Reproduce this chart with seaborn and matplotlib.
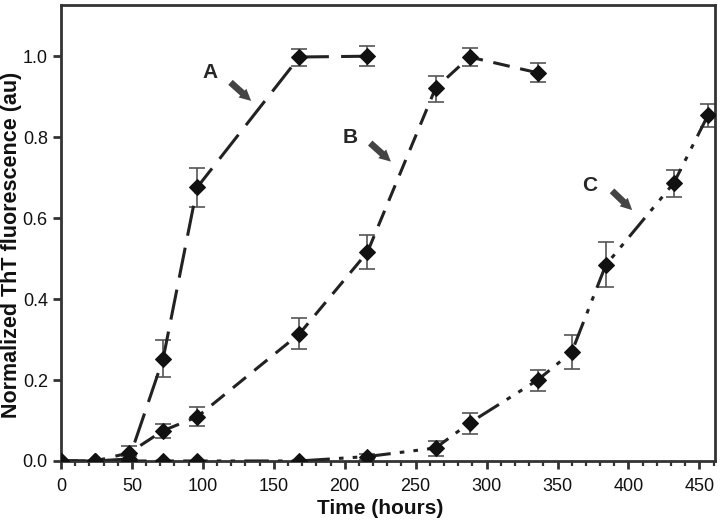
import numpy as np
import matplotlib
matplotlib.use('Agg')
import matplotlib.pyplot as plt
import seaborn as sns

sns.set_theme(style='ticks')
plt.rcParams['font.family'] = ['Liberation Sans', 'DejaVu Sans']

# Series A (fast)
time_a = [0, 24, 48, 72, 96, 168, 216]
val_a = [0.0, 0.0, 0.005, 0.253, 0.676, 0.998, 1.0]
lo_a = [0.0, 0.0, 0.0, 0.208, 0.628, 0.976, 0.975]
hi_a = [0.0, 0.0, 0.012, 0.299, 0.724, 1.017, 1.025]

# Series B
time_b = [0, 24, 48, 72, 96, 168, 216, 264, 288, 336]
val_b = [0.0, 0.0, 0.02, 0.075, 0.109, 0.314, 0.516, 0.921, 0.998, 0.959]
lo_b = [0.0, 0.0, 0.005, 0.058, 0.086, 0.277, 0.474, 0.887, 0.976, 0.937]
hi_b = [0.0, 0.0, 0.037, 0.091, 0.133, 0.352, 0.558, 0.950, 1.020, 0.982]

# Series C (slow)
time_c = [0, 24, 48, 72, 96, 168, 216, 264, 288, 336, 360, 384, 432, 456]
val_c = [0.0, 0.0, 0.0, 0.0, 0.0, 0.0, 0.011, 0.032, 0.094, 0.200, 0.269, 0.484, 0.687, 0.854]
lo_c = [0.0, 0.0, 0.0, 0.0, 0.0, 0.0, 0.002, 0.013, 0.067, 0.174, 0.227, 0.430, 0.653, 0.825]
hi_c = [0.0, 0.0, 0.0, 0.0, 0.0, 0.0, 0.018, 0.049, 0.118, 0.225, 0.311, 0.540, 0.720, 0.883]

fig = plt.figure(figsize=(7.21, 5.2), dpi=100)
ax = fig.add_axes([0.0846, 0.1135, 0.9071, 0.8765])

series = [
    (time_a, val_a, lo_a, hi_a, (10, 4)),
    (time_b, val_b, lo_b, hi_b, (5.5, 3.5)),
    (time_c, val_c, lo_c, hi_c, (8, 3, 1.5, 3, 1.5, 3)),
]
for t, v, lo, hi, dash in series:
    v = np.array(v)
    yerr = [np.clip(v - np.array(lo), 0, None), np.clip(np.array(hi) - v, 0, None)]
    ax.errorbar(t, v, yerr=yerr, fmt='none', ecolor='#555555', elinewidth=1.2,
                capsize=6, capthick=1.2, zorder=2)
    sns.lineplot(x=t, y=v, ax=ax, color='#222222', linewidth=2.2,
                 marker='D', markersize=8, markerfacecolor='#111111',
                 markeredgecolor='#111111', zorder=3)
    ax.lines[-1].set_dashes(dash)

# labels with arrows
for txt, tx, ty, x0, y0, x1, y1 in [
    ('A', 105, 0.96, 118, 0.94, 135.5, 0.885),
    ('B', 204, 0.80, 216.5, 0.79, 234, 0.735),
    ('C', 373, 0.68, 387, 0.672, 404, 0.615),
]:
    ax.text(tx, ty, txt, fontsize=15, fontweight='bold', ha='center', va='center')
    ax.annotate('', xy=(x1, y1), xytext=(x0, y0),
                arrowprops=dict(arrowstyle='simple,head_length=0.7,head_width=0.7,tail_width=0.4',
                                color='#444444', lw=0))

ax.set_xlim(0, 461)
ax.set_ylim(0, 1.126)
ax.set_xticks(np.arange(0, 451, 50))
ax.set_xticks(np.arange(0, 461, 10), minor=True)
ax.set_yticks(np.arange(0, 1.01, 0.2))
ax.set_yticklabels([f'{v:.1f}' for v in np.arange(0, 1.01, 0.2)])
ax.tick_params(axis='both', which='major', direction='out', length=6, width=2,
               color='#333333', labelsize=13, labelcolor='#111111')
ax.tick_params(axis='x', which='major', pad=6)
ax.tick_params(axis='x', which='minor', direction='out', length=3.5, width=1.6, color='#333333')
for s in ax.spines.values():
    s.set_linewidth(2)
    s.set_color('#333333')

ax.set_xlabel('Time (hours)', fontsize=15, fontweight='bold', color='#111111')
ax.set_ylabel('Normalized ThT fluorescence (au)', fontsize=15.5, fontweight='bold',
              color='#111111')
ax.xaxis.set_label_coords(0.488, -0.084)
ax.yaxis.set_label_coords(-0.076, 0.474)
ax.yaxis.label.set_va('center')

fig.savefig('out.png', dpi=100)
